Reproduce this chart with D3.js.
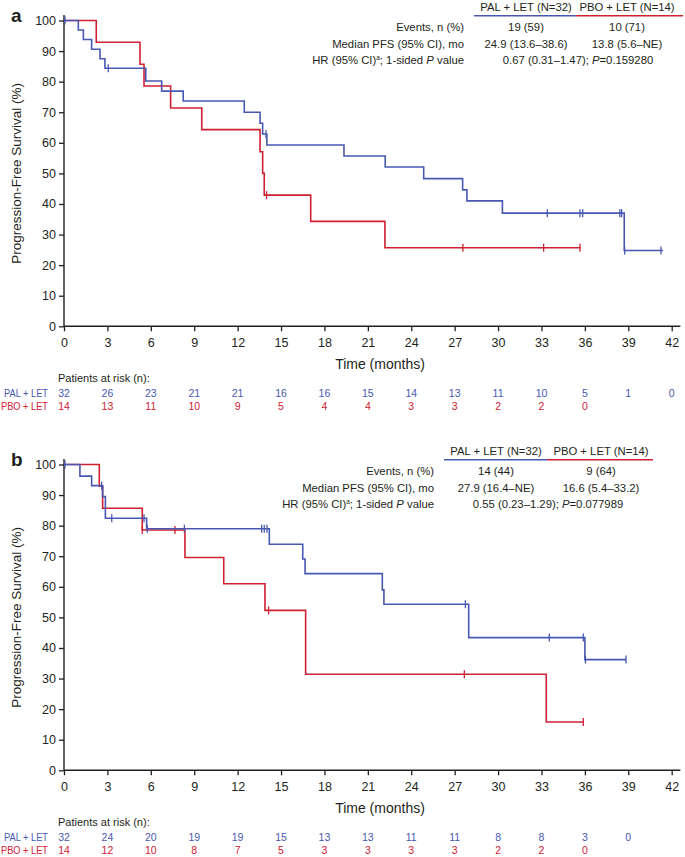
<!DOCTYPE html>
<html>
<head>
<meta charset="utf-8">
<script src="https://cdn.jsdelivr.net/npm/d3@7"></script>
<style>
body { margin: 0; background: #fff; }
text { font-family: "Liberation Sans", Arial, sans-serif; fill: #231f20; }
</style>
</head>
<body>
<svg id="chart" width="685" height="857"></svg>
<script>
var width = 685
var height = 857
var blue = "#4858b2"
var red = "#cf2032"
var ink = "#231f20"

var months = [0, 3, 6, 9, 12, 15, 18, 21, 24, 27, 30, 33, 36, 39, 42]
var yTicks = [0, 10, 20, 30, 40, 50, 60, 70, 80, 90, 100]

// panel a - PAL + LET
var palA_time = [0, 0.99, 1.34, 1.91, 2.49, 2.83, 5.65, 6.75, 8.24, 12.46, 13.55, 13.73, 14.02, 19.35, 22.2, 24.86, 27.55, 27.85, 30.3, 38.72]
var palA_surv = [100, 96.9, 93.8, 90.6, 87.5, 84.4, 80.2, 76.9, 73.7, 70.0, 66.4, 62.9, 59.3, 55.7, 52.1, 48.3, 44.6, 41.0, 37.0, 24.8]
var palA_end = 41.4
var palA_cens = [0.07, 3.06, 13.96, 33.4, 35.66, 35.85, 38.42, 38.54, 38.75, 41.26]
// panel a - PBO + LET
var pboA_time = [0, 2.23, 5.25, 5.53, 7.37, 9.52, 13.55, 13.73, 13.84, 17.05, 22.18]
var pboA_surv = [100, 92.9, 85.7, 78.6, 71.4, 64.3, 57.1, 50.0, 42.9, 34.3, 25.7]
var pboA_end = 35.7
var pboA_cens = [14.0, 27.57, 33.15, 35.66]

var riskPalA = [32, 26, 23, 21, 21, 16, 16, 15, 14, 13, 11, 10, 5, 1, 0]
var riskPboA = [14, 13, 11, 10, 9, 5, 4, 4, 3, 3, 2, 2, 0]

// panel b - PAL + LET
var palB_time = [0, 1.1, 1.91, 2.67, 2.86, 5.71, 14.19, 16.5, 16.66, 22.0, 22.11, 27.97, 36.0]
var palB_surv = [100, 96.2, 93.1, 89.5, 82.4, 79.0, 73.9, 69.1, 64.3, 59.0, 54.3, 43.4, 36.2]
var palB_end = 38.84
var palB_cens = [0.07, 2.6, 3.3, 5.53, 5.76, 8.32, 13.66, 13.84, 14.03, 27.74, 33.54, 35.89, 36.04, 38.84]
// panel b - PBO + LET
var pboB_time = [0, 2.44, 2.67, 5.41, 8.36, 11.04, 13.89, 16.7, 33.33]
var pboB_surv = [100, 92.9, 85.7, 78.6, 69.6, 61.0, 52.3, 31.4, 15.8]
var pboB_end = 35.89
var pboB_cens = [5.41, 7.67, 14.14, 27.67, 35.89]

var riskPalB = [32, 24, 20, 19, 19, 15, 13, 13, 11, 11, 8, 8, 3, 0]
var riskPboB = [14, 12, 10, 8, 7, 5, 3, 3, 3, 3, 2, 2, 0]

var panels = [
    {
        letter: "a", dy: 0,
        pal: {time: palA_time, surv: palA_surv, end: palA_end, cens: palA_cens, risk: riskPalA},
        pbo: {time: pboA_time, surv: pboA_surv, end: pboA_end, cens: pboA_cens, risk: riskPboA},
        events: ["19 (59)", "10 (71)"],
        median: ["24.9 (13.6\u201338.6)", "13.8 (5.6\u2013NE)"],
        hr: "0.67 (0.31\u20131.47); ", p: "=0.159280",
        labelRight: 464, cols: [526, 627], hrCenter: 578, lineX: [474, 576, 683]
    },
    {
        letter: "b", dy: 444,
        pal: {time: palB_time, surv: palB_surv, end: palB_end, cens: palB_cens, risk: riskPalB},
        pbo: {time: pboB_time, surv: pboB_surv, end: pboB_end, cens: pboB_cens, risk: riskPboB},
        events: ["14 (44)", "9 (64)"],
        median: ["27.9 (16.4\u2013NE)", "16.6 (5.4\u201333.2)"],
        hr: "0.55 (0.23\u20131.29); ", p: "=0.077989",
        labelRight: 434, cols: [496, 601], hrCenter: 548, lineX: [444, 547, 653]
    }
]

var svg = d3.select("#chart")

var x = d3.scaleLinear().domain([0, 42]).range([64, 671.7])
var y = d3.scaleLinear().domain([0, 100]).range([326.3, 20.5])

function survAt(s, t) {
    var i = d3.bisectRight(s.time, t) - 1
    return s.surv[Math.max(i, 0)]
}

var stepLine = d3.line()
    .x(function(d) { return x(d[0]) })
    .y(function(d) { return y(d[1]) })
    .curve(d3.curveStepAfter)

function drawCurve(g, s, color) {
    var pts = s.time.map(function(t, i) { return [t, s.surv[i]] })
    pts.push([s.end, s.surv[s.surv.length - 1]])
    g.append("path")
        .attr("d", stepLine(pts))
        .attr("fill", "none")
        .attr("stroke", color)
        .attr("stroke-width", 1.6)

    // censor marks
    g.selectAll(null)
        .data(s.cens)
        .enter()
        .append("line")
        .attr("x1", function(d) { return x(d) })
        .attr("x2", function(d) { return x(d) })
        .attr("y1", function(d) { return y(survAt(s, d)) - 4 })
        .attr("y2", function(d) { return y(survAt(s, d)) + 4 })
        .attr("stroke", color)
        .attr("stroke-width", 1.3)
}

function drawPanel(p) {
    var g = svg.append("g").attr("transform", "translate(0," + p.dy + ")")

    // axes
    g.append("g")
        .attr("transform", "translate(" + x(0) + ",0)")
        .call(d3.axisLeft(y).tickValues(yTicks).tickSize(5).tickPadding(3).tickSizeOuter(0))
    g.append("g")
        .attr("transform", "translate(0," + y(0) + ")")
        .call(d3.axisBottom(x).tickValues(months).tickSize(5).tickPadding(7).tickSizeOuter(0))
    g.selectAll(".domain").remove()
    g.selectAll(".tick line").attr("stroke", ink).attr("stroke-width", 1.3)
    g.selectAll(".tick text").attr("font-size", 12.5).attr("fill", ink)
        .style("font-family", "'Liberation Sans', Arial, sans-serif")
    g.append("line")
        .attr("x1", x(0)).attr("x2", x(0))
        .attr("y1", y(0)).attr("y2", y(101.8))
        .attr("stroke", ink).attr("stroke-width", 1.4)
    g.append("line")
        .attr("x1", x(0)).attr("x2", x(42.6))
        .attr("y1", y(0)).attr("y2", y(0))
        .attr("stroke", ink).attr("stroke-width", 1.4)

    g.append("text")
        .attr("transform", "translate(21," + (y(50)) + ") rotate(-90)")
        .attr("text-anchor", "middle")
        .attr("font-size", 13.5)
        .text("Progression-Free Survival (%)")

    g.append("text")
        .attr("x", 11).attr("y", 21.5)
        .attr("font-size", 19).attr("font-weight", "bold")
        .text(p.letter)

    g.append("text")
        .attr("x", 380).attr("y", 368.5)
        .attr("text-anchor", "middle")
        .attr("font-size", 14)
        .text("Time (months)")

    // curves
    drawCurve(g, p.pbo, red)
    drawCurve(g, p.pal, blue)

    // legend table
    var lg = g.append("g")
    lg.append("text").attr("x", p.cols[0]).attr("y", 10.8).attr("text-anchor", "middle").attr("font-size", 11.3).text("PAL + LET (N=32)")
    lg.append("text").attr("x", p.cols[1]).attr("y", 10.8).attr("text-anchor", "middle").attr("font-size", 11.3).text("PBO + LET (N=14)")
    lg.append("line").attr("x1", p.lineX[0]).attr("x2", p.lineX[1]).attr("y1", 15.7).attr("y2", 15.7).attr("stroke", blue).attr("stroke-width", 1.5)
    lg.append("line").attr("x1", p.lineX[1]).attr("x2", p.lineX[2]).attr("y1", 15.7).attr("y2", 15.7).attr("stroke", red).attr("stroke-width", 1.5)

    var rows = ["Events, n (%)", "Median PFS (95% CI), mo"]
    var rowY = [31, 47.5, 63.5]
    rows.forEach(function(r, i) {
        lg.append("text").attr("x", p.labelRight).attr("y", rowY[i]).attr("text-anchor", "end").attr("font-size", 11.3).text(r)
    })
    var hrLabel = lg.append("text").attr("x", p.labelRight).attr("y", rowY[2]).attr("text-anchor", "end").attr("font-size", 11.3)
    hrLabel.append("tspan").text("HR (95% CI)")
    hrLabel.append("tspan").attr("font-size", 6.5).attr("dy", -4).text("a")
    hrLabel.append("tspan").attr("dy", 4).text("; 1-sided ")
    hrLabel.append("tspan").attr("font-style", "italic").text("P")
    hrLabel.append("tspan").text(" value")

    ;[p.events, p.median].forEach(function(vals, i) {
        vals.forEach(function(v, j) {
            lg.append("text").attr("x", p.cols[j]).attr("y", rowY[i]).attr("text-anchor", "middle").attr("font-size", 11.3).text(v)
        })
    })
    var hrVal = lg.append("text").attr("x", p.hrCenter).attr("y", rowY[2]).attr("text-anchor", "middle").attr("font-size", 11.3)
    hrVal.append("tspan").text(p.hr)
    hrVal.append("tspan").attr("font-style", "italic").text("P")
    hrVal.append("tspan").text(p.p)

    // patients at risk
    g.append("text").attr("x", 58).attr("y", 382.3).attr("font-size", 11).text("Patients at risk (n):")
    var riskRows = [{name: "PAL + LET", vals: p.pal.risk, color: blue, y: 396.5, x: 4, len: 44},
                    {name: "PBO + LET", vals: p.pbo.risk, color: red, y: 410, x: 1, len: 47}]
    riskRows.forEach(function(r) {
        g.append("text").attr("x", r.x).attr("y", r.y)
            .attr("font-size", 10.5)
            .attr("textLength", r.len).attr("lengthAdjust", "spacingAndGlyphs")
            .style("fill", r.color).text(r.name)
        g.selectAll(null)
            .data(r.vals)
            .enter()
            .append("text")
            .attr("x", function(d, i) { return x(months[i]) })
            .attr("y", r.y)
            .attr("text-anchor", "middle")
            .attr("font-size", 10.5)
            .style("fill", r.color)
            .text(function(d) { return d })
    })
}

panels.forEach(drawPanel)
</script>
</body>
</html>
